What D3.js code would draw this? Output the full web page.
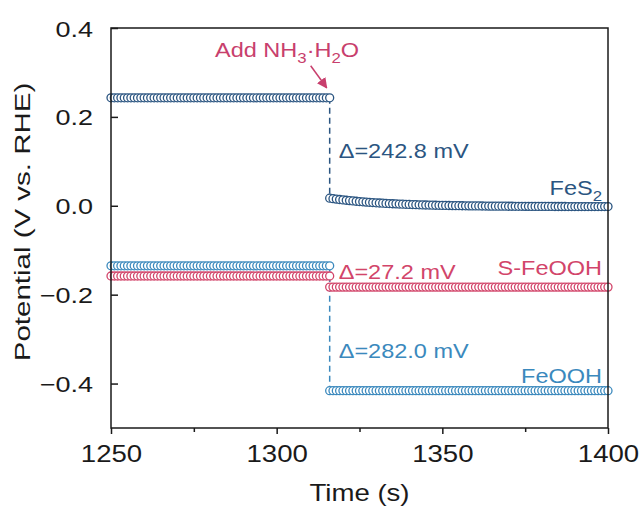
<!DOCTYPE html>
<html>
<head>
<meta charset="utf-8">
<script src="https://cdn.jsdelivr.net/npm/d3@7"></script>
<style>
  body { margin: 0; background: #fff; }
  svg { display: block; font-family: "Liberation Sans", Arial, sans-serif; }
</style>
</head>
<body>
<div id="chart"></div>
<script>
// sampling: one point per second, potential step when NH3·H2O is added
const addTime = 1316;
const timeBefore = d3.range(1250, addTime + 1);
const timeAfter = d3.range(addTime, 1401);

const seriesNames = ['S-FeOOH', 'FeOOH', 'FeS2'];
const levelBefore = [-0.158, -0.135, 0.243];   // V vs. RHE
const levelAfter = [-0.183, -0.416, null];     // FeS2 after the step is not flat

// FeS2 after the step (1316 ... 1400 s)
const fes2After = [
  0.0170, 0.0160, 0.0150, 0.0141, 0.0132, 0.0124, 0.0116, 0.0109, 0.0102, 0.0095,
  0.0089, 0.0083, 0.0078, 0.0072, 0.0067, 0.0063, 0.0058, 0.0054, 0.0050, 0.0046,
  0.0043, 0.0039, 0.0036, 0.0033, 0.0030, 0.0027, 0.0025, 0.0022, 0.0020, 0.0018,
  0.0016, 0.0014, 0.0012, 0.0010, 0.0009, 0.0007, 0.0006, 0.0004, 0.0003, 0.0002,
  0.0001, -0.0001, -0.0002, -0.0003, -0.0004, -0.0004, -0.0005, -0.0006, -0.0007, -0.0008,
  -0.0008, -0.0009, -0.0009, -0.0010, -0.0011, -0.0011, -0.0012, -0.0012, -0.0012, -0.0013,
  -0.0013, -0.0014, -0.0014, -0.0014, -0.0015, -0.0015, -0.0015, -0.0015, -0.0016, -0.0016,
  -0.0016, -0.0016, -0.0017, -0.0017, -0.0017, -0.0017, -0.0017, -0.0017, -0.0018, -0.0018,
  -0.0018, -0.0018, -0.0018, -0.0018, -0.0018
];

const deltaLabels = ['Δ=27.2 mV', 'Δ=282.0 mV', 'Δ=242.8 mV'];
const xTicks = [1250, 1300, 1350, 1400];
const xMinorTicks = [1275, 1325, 1375];
const yTicks = [-0.4, -0.2, 0.0, 0.2, 0.4];

const colors = ['#d2456a', '#3b89bd', '#2b5581'];

const width = 644, height = 512;
const margin = { top: 28, right: 36, bottom: 84, left: 111 };

const svg = d3.select('#chart').append('svg')
  .attr('width', width)
  .attr('height', height);

const x = d3.scaleLinear().domain([1250, 1400]).range([margin.left, width - margin.right]);
const y = d3.scaleLinear().domain([-0.5, 0.4]).range([height - margin.bottom, margin.top]);

// build point lists
const series = seriesNames.map((name, i) => {
  const before = timeBefore.map(t => ({ t, v: levelBefore[i] }));
  const after = name === 'FeS2'
    ? timeAfter.map((t, j) => ({ t, v: fes2After[j] }))
    : timeAfter.map(t => ({ t, v: levelAfter[i] }));
  return { name, color: colors[i], before, after };
});

// dashed step lines
series.forEach(s => {
  svg.append('line')
    .attr('x1', x(addTime)).attr('x2', x(addTime))
    .attr('y1', y(s.before[s.before.length - 1].v))
    .attr('y2', y(s.after[0].v))
    .attr('stroke', s.color)
    .attr('stroke-width', 1.5)
    .attr('stroke-dasharray', '6,4');
});

// open circle markers
series.forEach(s => {
  svg.append('g')
    .selectAll('circle')
    .data(s.before.concat(s.after))
    .enter()
    .append('circle')
    .attr('cx', d => x(d.t))
    .attr('cy', d => y(d.v))
    .attr('r', 4)
    .attr('fill', '#fff')
    .attr('stroke', s.color)
    .attr('stroke-width', 1.3);
});

// frame
const axisColor = '#1a1a1a';
svg.append('rect')
  .attr('x', margin.left).attr('y', margin.top)
  .attr('width', width - margin.right - margin.left)
  .attr('height', height - margin.bottom - margin.top)
  .attr('fill', 'none')
  .attr('stroke', axisColor)
  .attr('stroke-width', 1.5);

// axes
const gx = svg.append('g')
  .attr('transform', `translate(0,${height - margin.bottom})`)
  .call(d3.axisBottom(x).tickValues(xTicks).tickSize(6).tickFormat(d3.format('d')));
svg.append('g')
  .attr('transform', `translate(0,${height - margin.bottom})`)
  .call(d3.axisBottom(x).tickValues(xMinorTicks).tickSize(4).tickFormat(''));

const gy = svg.append('g')
  .attr('transform', `translate(${margin.left},0)`)
  .call(d3.axisLeft(y).tickValues(yTicks).tickSize(-7)
    .tickFormat(d => d3.format('.1f')(d).replace('-', '−')));

svg.selectAll('.domain').remove();
svg.selectAll('.tick line').attr('stroke', axisColor).attr('stroke-width', 1.5);

gx.selectAll('.tick text')
  .attr('y', 0).attr('dy', 0)
  .attr('transform', 'translate(0,34) scale(1.2,1)')
  .attr('font-size', 23)
  .attr('fill', axisColor);

gy.selectAll('.tick text')
  .attr('x', 0).attr('dy', 0)
  .attr('transform', 'translate(-18,8) scale(1.2,1)')
  .attr('font-size', 22.5)
  .attr('fill', axisColor);

// axis titles
svg.append('text')
  .attr('transform', `translate(${(margin.left + width - margin.right) / 2},501) scale(1.2,1)`)
  .attr('text-anchor', 'middle')
  .attr('font-size', 23)
  .attr('fill', axisColor)
  .text('Time (s)');

svg.append('text')
  .attr('transform', 'translate(30,222) rotate(-90) scale(1.34,1)')
  .attr('text-anchor', 'middle')
  .attr('font-size', 22)
  .attr('fill', axisColor)
  .text('Potential (V vs. RHE)');

// annotation helper: parts are plain strings or {sub: '...'} subscripts
function addLabel(xp, yp, anchor, color, parts) {
  const t = svg.append('text')
    .attr('transform', `translate(${xp},${yp}) scale(1.12,1)`)
    .attr('text-anchor', anchor)
    .attr('font-size', 21)
    .attr('fill', color);
  let shifted = false;
  parts.forEach(p => {
    if (typeof p === 'object') {
      t.append('tspan').attr('font-size', 15).attr('dy', 6).text(p.sub);
      shifted = true;
    } else {
      t.append('tspan').attr('dy', shifted ? -6 : 0).text(p);
      shifted = false;
    }
  });
  return t;
}

const xLab = x(addTime) + 9;
const xRight = x(1400) - 6;

// Δ labels
addLabel(xLab, y(series[2].before[0].v) + 60, 'start', colors[2], [deltaLabels[2]]);
addLabel(xLab, y(series[0].after[0].v) - 8, 'start', colors[0], [deltaLabels[0]]);
addLabel(xLab, y(series[1].after[0].v) - 33, 'start', colors[1], [deltaLabels[1]]);

// series names
addLabel(xRight, y(0) - 11, 'end', colors[2], ['FeS', { sub: '2' }]);
addLabel(xRight, y(series[0].after[0].v) - 12, 'end', colors[0], ['S-FeOOH']);
addLabel(xRight, y(series[1].after[0].v) - 8, 'end', colors[1], ['FeOOH']);

// Add NH3·H2O annotation with arrow
const addColor = '#c83f6d';
addLabel(215, 57, 'start', addColor, ['Add NH', { sub: '3' }, '·H', { sub: '2' }, 'O']);

svg.append('defs').append('marker')
  .attr('id', 'arrow')
  .attr('viewBox', '0 0 10 10')
  .attr('refX', 9).attr('refY', 5)
  .attr('markerWidth', 7).attr('markerHeight', 7)
  .attr('orient', 'auto')
  .append('path')
  .attr('d', 'M0,0 L10,5 L0,10 z')
  .attr('fill', addColor);

const headX = x(addTime) - 3, headY = y(series[2].before[0].v) - 10;
svg.append('line')
  .attr('x1', headX - 16).attr('y1', headY - 22)
  .attr('x2', headX).attr('y2', headY)
  .attr('stroke', addColor)
  .attr('stroke-width', 1.5)
  .attr('marker-end', 'url(#arrow)');
</script>
</body>
</html>
